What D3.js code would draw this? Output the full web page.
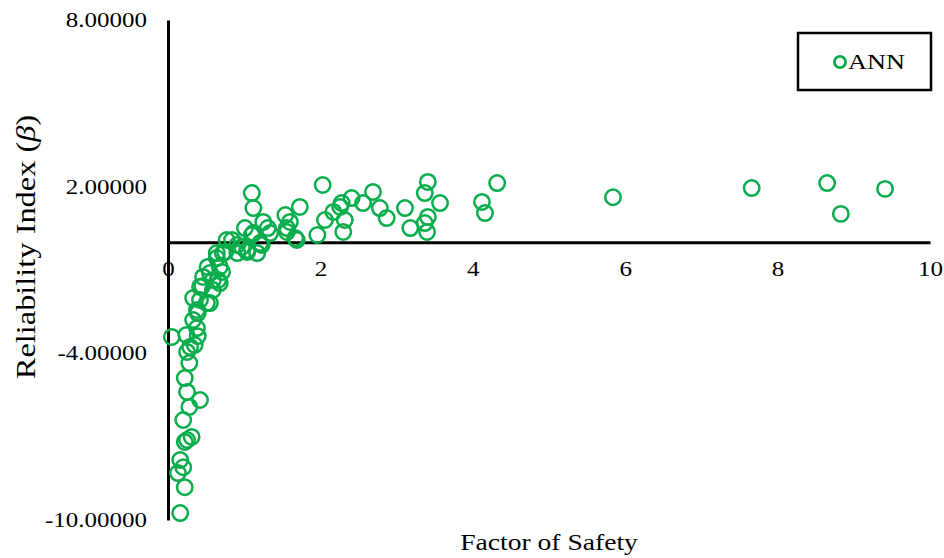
<!DOCTYPE html>
<html>
<head>
<meta charset="utf-8">
<script src="https://cdn.jsdelivr.net/npm/d3@7"></script>
<style>
  body { margin: 0; background: #fff; }
  text { font-family: "Liberation Serif", "Times New Roman", serif; fill: #000; }
</style>
</head>
<body>
<div id="chart"></div>
<script>
// factor of safety vs reliability index
const fosValues = [
    0.16, 0.22, 0.13, 0.20, 0.16, 0.25, 0.31, 0.22, 0.20, 0.28,
    0.42, 0.25, 0.22, 0.28, 0.25, 0.29, 0.05, 0.24, 0.39, 0.35,
    0.33, 0.39, 0.38, 0.38, 0.33, 0.42, 0.51, 0.45, 0.55, 0.59,
    0.68, 0.66, 0.71, 0.55, 0.46, 0.59, 0.42, 0.52, 0.68, 0.64,
    0.72, 0.75, 0.64, 0.84, 0.91, 0.97, 1.04, 1.04, 1.10, 1.17,
    1.21, 1.23, 1.34, 1.12, 1.01, 1.31, 1.25, 1.12, 1.10, 0.77,
    0.91, 1.56, 1.60, 1.54, 1.67, 1.69, 1.73, 1.56,
    2.03, 1.96, 2.06, 2.17, 2.26, 2.32, 2.28, 2.41, 2.30, 2.56,
    2.69, 2.78, 2.87, 3.11, 3.18, 3.37, 3.41, 3.37, 3.41, 3.57,
    3.40, 4.12, 4.16, 4.32, 5.84, 7.66, 8.65, 8.83, 9.41
];
const betaValues = [
    -9.75, -8.82, -8.31, -8.10, -7.84, -7.12, -7.01, -7.19, -6.40, -5.93,
    -5.68, -5.39, -4.89, -4.35, -3.95, -3.77, -3.41, -3.34, -3.38, -3.70,
    -2.80, -2.55, -3.09, -2.44, -2.01, -2.08, -2.19, -1.58, -2.19, -1.72,
    -1.47, -1.36, -1.07, -1.11, -1.25, -1.36, -1.61, -0.89, -0.89, -0.57,
    -0.39, -0.35, -0.39, 0.08, -0.39, -0.17, -0.28, -0.35, 0.26, -0.39,
    -0.03, -0.10, 0.33, 0.33, 0.51, 0.51, 0.73, 1.23, 1.77, 0.08,
    -0.10, 0.51, 0.73, 0.98, 0.15, 0.08, 1.27, 0.37,
    2.06, 0.26, 0.80, 1.09, 1.27, 0.80, 1.41, 1.59, 0.37, 1.41,
    1.81, 1.23, 0.87, 1.23, 0.51, 0.69, 0.91, 1.77, 2.17, 1.41,
    0.37, 1.45, 1.05, 2.13, 1.62, 1.95, 2.13, 1.02, 1.92
];
const xTicks = [0, 2, 4, 6, 8, 10];
const yTicks = [8, 2, -4, -10];
const seriesName = "ANN";

const W = 944, H = 558;
const green = "#0aad4c";
const stretch = 1.25; // text in the picture is wider than tall

const svg = d3.select("#chart").append("svg")
    .attr("width", W)
    .attr("height", H);

const x = d3.scaleLinear().domain([0, 10]).range([168, 930]);
const y = d3.scaleLinear().domain([-10, 8]).range([520, 20]);

// x axis sits on beta = 0
const xAxis = svg.append("g")
    .attr("transform", `translate(0, ${y(0)})`)
    .call(d3.axisBottom(x).tickValues(xTicks).tickSize(0).tickSizeOuter(0).tickPadding(20).tickFormat(d3.format("d")));
xAxis.select(".domain").attr("stroke", "#000").attr("stroke-width", 3);
xAxis.selectAll("text")
    .attr("font-size", 20)
    .attr("transform", `scale(${stretch},1)`)
    .attr("font-family", "Liberation Serif");

// plain hyphen for negatives, like the original
const fmt5 = d => d3.format(".5f")(d).replace("\u2212", "-");
const yAxis = svg.append("g")
    .attr("transform", `translate(${x(0)}, 0)`)
    .call(d3.axisLeft(y).tickValues(yTicks).tickSize(0).tickSizeOuter(0).tickPadding(0).tickFormat(fmt5));
yAxis.select(".domain").attr("stroke", "#000").attr("stroke-width", 3);
yAxis.selectAll("text")
    .attr("font-size", 20)
    .attr("x", -21 / stretch)
    .attr("transform", `scale(${stretch},1)`)
    .attr("font-family", "Liberation Serif");

// points
const points = fosValues.map((v, i) => ({ fos: v, beta: betaValues[i] }));
svg.append("g")
    .selectAll("circle")
    .data(points)
    .join("circle")
    .attr("cx", d => x(d.fos))
    .attr("cy", d => y(d.beta))
    .attr("r", 7.7)
    .attr("fill", "none")
    .attr("stroke", green)
    .attr("stroke-width", 2.5);

// axis titles
svg.append("text")
    .attr("transform", `translate(549, 550) scale(1.2,1)`)
    .attr("text-anchor", "middle")
    .attr("font-size", 23)
    .text("Factor of Safety");

const yTitle = svg.append("text")
    .attr("transform", "translate(35, 247) rotate(-90) scale(1.2,1)")
    .attr("text-anchor", "middle")
    .attr("font-size", 27);
yTitle.append("tspan").text("Reliability Index (");
yTitle.append("tspan").attr("font-style", "italic").text("β");
yTitle.append("tspan").text(")");

// legend
const legend = svg.append("g").attr("transform", "translate(798, 33)");
legend.append("rect")
    .attr("width", 133)
    .attr("height", 57)
    .attr("fill", "#fff")
    .attr("stroke", "#000")
    .attr("stroke-width", 2.5);
legend.append("circle")
    .attr("cx", 42)
    .attr("cy", 29)
    .attr("r", 5.6)
    .attr("fill", "none")
    .attr("stroke", green)
    .attr("stroke-width", 2.8);
legend.append("text")
    .attr("transform", `translate(50, 36) scale(${stretch},1)`)
    .attr("font-size", 21)
    .text(seriesName);
</script>
</body>
</html>
